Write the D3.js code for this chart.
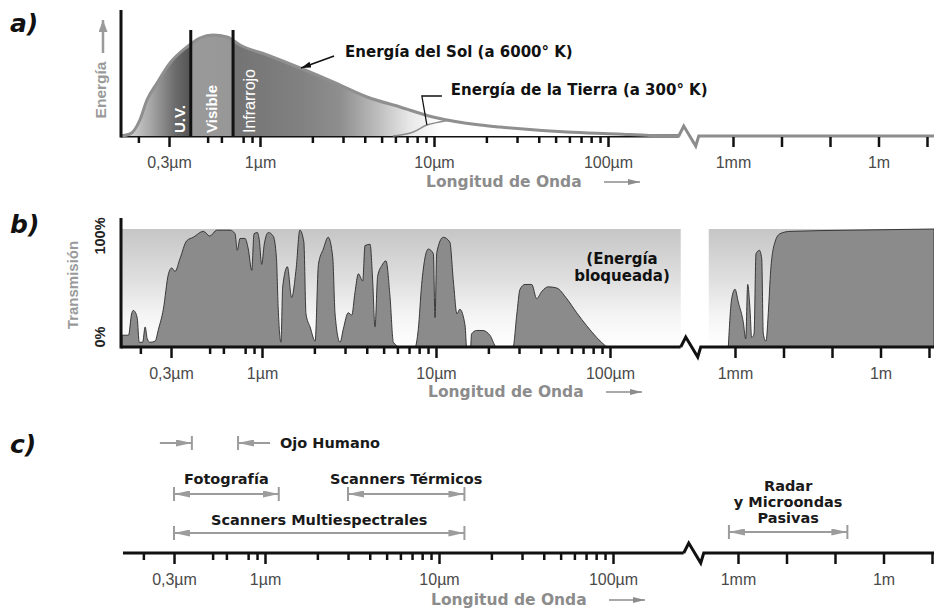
<!DOCTYPE html>
<html>
<head>
<meta charset="utf-8">
<script src="https://cdnjs.cloudflare.com/ajax/libs/d3/7.8.5/d3.min.js"></script>
<style>
  body { margin: 0; background: #fff; }
  svg { display: block; }
</style>
</head>
<body>
<svg id="chart" width="934" height="609"></svg>
<script>
/*******************************************************
 *                      DATA                           *
 ******************************************************/
// wavelengths in micrometres
var majorTicks  = [0.3, 1, 10, 100];
var majorLabels = ["0,3µm", "1µm", "10µm", "100µm"];
var minorTicks  = [0.2, 0.5, 0.6, 0.8, 0.9, 2, 3, 4, 5, 6, 7, 8, 9, 20, 30, 40, 50, 60, 70, 80, 90];
var farTicks    = [1000, 1e4, 1e5, 1e6, 1e7];
var farLabels   = ["1mm", "", "", "1m", ""];

// a) emitted energy (relative), [wavelength, energy]
var sunCurve = [[0.158,0],[0.179,2],[0.204,16],[0.224,36],[0.256,53],[0.304,73],[0.380,89],
  [0.452,98],[0.537,101],[0.646,99],[0.768,91],[1.10,81],[1.70,68],[2.63,54],[4.12,39],
  [6.38,29],[9.87,19],[18.4,11],[23.9,9],[58.1,4],[113,2],[174,0.5],[259,0]];
var earthCurve = [[5.8,0],[7.6,4],[9.1,11],[10.8,14],[12.5,16]];
var bandEdges  = [0.4, 0.7];
var bandNames  = ["U.V.", "Visible", "Infrarrojo"];

// b) atmospheric transmission (%), [wavelength, percent]
var transNear = [[0.157,10],[0.171,10],[0.178,28],[0.182,31],[0.186,30],[0.192,24],[0.197,4],
  [0.206,4],[0.213,17],[0.219,7],[0.227,4],[0.243,5],[0.254,15],[0.271,32],[0.290,62],
  [0.303,67],[0.316,64],[0.338,75],[0.369,90],[0.403,93],[0.460,98],[0.502,94],[0.549,99],
  [0.655,99],[0.700,96],[0.721,82],[0.748,92],[0.799,92],[0.834,83],[0.873,65],[0.900,96],
  [0.940,97],[0.964,91],[0.996,70],[1.03,87],[1.087,97],[1.16,94],[1.21,76],[1.24,32],
  [1.285,4],[1.315,51],[1.40,68],[1.48,42],[1.57,66],[1.65,99],[1.74,89],[1.79,28],
  [1.89,17],[2.02,5],[2.11,70],[2.25,83],[2.40,93],[2.55,76],[2.63,28],[2.81,4],[2.93,15],
  [3.13,29],[3.28,27],[3.42,46],[3.58,62],[3.79,56],[3.91,86],[4.18,87],[4.33,55],[4.46,17],
  [4.62,60],[4.88,69],[5.16,73],[5.44,43],[5.69,4],[6.21,0],[7.57,0],[7.91,15],[8.27,53],
  [9.03,83],[9.66,79],[9.87,25],[10.1,80],[11.0,93],[12.0,89],[12.6,55],[13.2,28],[13.7,32],
  [14.7,18],[15.0,0],[15.8,0],[16.0,11],[17.1,14],[18.6,14],[20.4,10],[22.3,0],[27.7,0],
  [29.1,27],[30.4,49],[32.5,53],[35.5,53],[37.9,41],[40.5,47],[44.2,51],[49.4,50],[56.4,41],
  [64.4,29],[73.5,18],[83.9,8],[95.7,0]];
var transFar = [[728,0],[855,41],[1000,49],[1170,38],[1483,21],[1662,7],[1828,53],[2038,32],
  [2210,8],[2465,11],[2710,79],[3170,82],[3554,75],[3834,11],[4355,5],[4860,29],[5445,65],
  [6680,89],[8470,96],[13600,98],[235000,99],[1.27e7,100]];

// c) sensors and their ranges
var eyeRange    = [0.38, 0.7];
var sensorNames = ["Fotografía", "Scanners Térmicos", "Scanners Multiespectrales", "Radar|y Microondas|Pasivas"];
var sensorFrom  = [0.3, 3, 0.3, 650];
var sensorTo    = [1.2, 14, 14, 180000];


/*******************************************************
 *                     SETUP                           *
 ******************************************************/
var SANS = "'Liberation Sans', Arial, Helvetica, sans-serif";
var BOLD = "'DejaVu Sans', 'Liberation Sans', sans-serif";
var W = 934;

var svg = d3.select("#chart");
var defs = svg.append("defs");

function marker(id, len, half, color) {
  defs.append("marker")
      .attr("id", id)
      .attr("markerUnits", "userSpaceOnUse")
      .attr("markerWidth", len).attr("markerHeight", half * 2)
      .attr("refX", len).attr("refY", half)
      .attr("orient", "auto-start-reverse")
      .append("path")
      .attr("d", "M0,0L" + len + "," + half + "L0," + (half * 2) + "Z")
      .attr("fill", color);
}
marker("headGray", 16, 3.5, "#9c9c9c");
marker("headAxis", 12, 3, "#8c8c8c");
marker("headBig", 12, 4.5, "#9a9a9a");
marker("headBlack", 10, 3, "#111");

// sun fill: dark UV, lighter visible band, IR fading out towards 10µm
var sunGrad = defs.append("linearGradient").attr("id", "sunFill")
    .attr("gradientUnits", "userSpaceOnUse")
    .attr("x1", 121).attr("x2", 441).attr("y1", 0).attr("y2", 0);
[[121, "#e2e2e2"], [150, "#a8a8a8"], [175, "#6c6c6c"], [189, "#565656"], [191, "#9a9a9a"],
 [232, "#979797"], [234, "#737373"], [300, "#818181"], [340, "#8e8e8e"], [380, "#c0c0c0"],
 [410, "#e8e8e8"], [441, "#ffffff"]].forEach(function(s) {
  sunGrad.append("stop").attr("offset", (s[0] - 121) / 320).attr("stop-color", s[1]);
});

// blocked-energy background of panel b
var skyGrad = defs.append("linearGradient").attr("id", "skyFill")
    .attr("x1", 0).attr("x2", 0).attr("y1", 0).attr("y2", 1);
[[0, "#c6c6c6"], [0.4, "#dddddd"], [0.75, "#f5f5f5"], [1, "#ffffff"]].forEach(function(s) {
  skyGrad.append("stop").attr("offset", s[0]).attr("stop-color", s[1]);
});

// log scales for both sides of the axis break
function nearX(shift) {
  return d3.scaleLog().domain([0.1, 1000]).range([87 + shift, 783 + shift]);
}
function farX(shift) {
  return d3.scaleLog().domain([1000, 1e7]).range([734 + shift, 928 + shift]);
}

function drawAxis(g, base, xn, xf, startX, rightColor) {
  var bx = xn(255);
  g.append("line")
   .attr("x1", startX).attr("x2", bx).attr("y1", base).attr("y2", base)
   .attr("stroke", "#111").attr("stroke-width", 3);
  g.append("path")
   .attr("d", d3.line()([[bx, base], [bx + 5, base - 10], [bx + 17, base + 10], [bx + 20, base], [W, base]]))
   .attr("fill", "none").attr("stroke", rightColor).attr("stroke-width", 3);

  var axes = [
    d3.axisBottom(xn).tickValues(minorTicks).tickSize(6).tickFormat(""),
    d3.axisBottom(xn).tickValues(majorTicks).tickSize(10).tickPadding(10)
      .tickFormat(function(d, i) { return majorLabels[i]; }),
    d3.axisBottom(xf).tickValues(farTicks).tickSize(10).tickPadding(10)
      .tickFormat(function(d, i) { return farLabels[i]; })
  ];
  axes.forEach(function(ax) {
    var a = g.append("g").attr("transform", "translate(0," + (base + 1) + ")").call(ax);
    a.select(".domain").remove();
    a.selectAll("line").attr("stroke", "#111").attr("stroke-width", 2.5);
    a.selectAll("text").attr("font-family", SANS).attr("font-size", 16).attr("fill", "#4a4a4a");
  });
  return bx;
}

function waveLabel(g, x, y) {
  g.append("text").attr("x", x).attr("y", y)
   .attr("font-family", BOLD).attr("font-weight", "bold").attr("font-size", 15.5)
   .attr("fill", "#8c8c8c").text("Longitud de Onda");
  g.append("line").attr("x1", x + 178).attr("x2", x + 214).attr("y1", y - 5).attr("y2", y - 5)
   .attr("stroke", "#8c8c8c").attr("stroke-width", 1.5).attr("marker-end", "url(#headAxis)");
}

function panelTag(txt, y) {
  svg.append("text").attr("x", 10).attr("y", y)
     .attr("font-family", BOLD).attr("font-weight", "bold").attr("font-style", "italic")
     .attr("font-size", 25).attr("fill", "#111").text(txt);
}

function vText(g, x, y, txt, size, color, weight, family) {
  return g.append("text")
    .attr("transform", "translate(" + x + "," + y + ") rotate(-90)")
    .attr("text-anchor", "middle").attr("dy", "0.35em")
    .attr("font-family", family || SANS).attr("font-weight", weight || "bold")
    .attr("font-size", size).attr("fill", color).text(txt);
}


/*******************************************************
 *              a) ENERGY SPECTRUM                     *
 ******************************************************/
var ga = svg.append("g");
var xaN = nearX(-1), xaF = farX(-1);
var ya = d3.scaleLinear().domain([0, 100]).range([136, 36]);

panelTag("a)", 32);

var bxa = drawAxis(ga, 136, xaN, xaF, 121, "#8c8c8c");

ga.append("path").datum(sunCurve)
  .attr("d", d3.area().curve(d3.curveMonotoneX)
    .x(function(d) { return xaN(d[0]); }).y0(ya(0)).y1(function(d) { return ya(d[1]); }))
  .attr("fill", "url(#sunFill)");

var lineA = d3.line().curve(d3.curveMonotoneX)
  .x(function(d) { return xaN(d[0]); }).y(function(d) { return ya(d[1]); });

ga.append("path").datum(earthCurve).attr("d", lineA)
  .attr("fill", "none").attr("stroke", "#8c8c8c").attr("stroke-width", 1.5);
ga.append("path").datum(sunCurve).attr("d", lineA)
  .attr("fill", "none").attr("stroke", "#8f8f8f").attr("stroke-width", 3);

ga.selectAll(".band").data(bandEdges).enter().append("line")
  .attr("x1", function(d) { return xaN(d); }).attr("x2", function(d) { return xaN(d); })
  .attr("y1", 30).attr("y2", 137)
  .attr("stroke", "#111").attr("stroke-width", 3);

var bandX = [xaN(bandEdges[0]) - 11, (xaN(bandEdges[0]) + xaN(bandEdges[1])) / 2, xaN(bandEdges[1]) + 16];
bandNames.forEach(function(name, i) {
  ga.append("text")
    .attr("transform", "translate(" + bandX[i] + ",133) rotate(-90)")
    .attr("dy", "0.35em")
    .attr("font-family", SANS).attr("font-size", i == 2 ? 16 : 15)
    .attr("font-weight", i == 2 ? "normal" : "bold")
    .attr("fill", "#fff").text(name);
});

// vertical axis
ga.append("line").attr("x1", 121).attr("x2", 121).attr("y1", 10).attr("y2", 137.5)
  .attr("stroke", "#111").attr("stroke-width", 3);
vText(ga, 101, 90, "Energía", 15.5, "#9a9a9a");
ga.append("line").attr("x1", 103).attr("x2", 103).attr("y1", 53).attr("y2", 20)
  .attr("stroke", "#9a9a9a").attr("stroke-width", 2.5).attr("marker-end", "url(#headBig)");

// annotations
var sunTip = [xaN(sunCurve[12][0]), ya(sunCurve[12][1])];
ga.append("line").attr("x1", sunTip[0] + 34).attr("y1", sunTip[1] - 12)
  .attr("x2", sunTip[0] + 1).attr("y2", sunTip[1])
  .attr("stroke", "#111").attr("stroke-width", 1.5).attr("marker-end", "url(#headBlack)");
ga.append("text").attr("x", sunTip[0] + 45).attr("y", 57)
  .attr("font-family", BOLD).attr("font-weight", "bold").attr("font-size", 15)
  .attr("fill", "#111").text("Energía del Sol (a 6000° K)");

var earthFoot = [xaN(earthCurve[2][0]), ya(earthCurve[2][1])];
ga.append("path")
  .attr("d", d3.line()([[earthFoot[0] + 15, 96], [earthFoot[0] - 5, 96], earthFoot]))
  .attr("fill", "none").attr("stroke", "#111").attr("stroke-width", 1.3);
ga.append("text").attr("x", earthFoot[0] + 24).attr("y", 95)
  .attr("font-family", BOLD).attr("font-weight", "bold").attr("font-size", 15)
  .attr("fill", "#111").text("Energía de la Tierra (a 300° K)");

waveLabel(ga, 426, 187);


/*******************************************************
 *              b) TRANSMISSION                        *
 ******************************************************/
var gb = svg.append("g");
var xbN = nearX(1), xbF = farX(1);
var yb = d3.scaleLinear().domain([0, 100]).range([347, 229]);

panelTag("b)", 233);

var bxb = xbN(255);
gb.append("rect").attr("x", 121).attr("y", yb(100)).attr("width", bxb - 121).attr("height", yb(0) - yb(100))
  .attr("fill", "url(#skyFill)");
gb.append("rect").attr("x", bxb + 28).attr("y", yb(100)).attr("width", W - bxb - 28).attr("height", yb(0) - yb(100))
  .attr("fill", "url(#skyFill)");

var areaNear = d3.area().curve(d3.curveMonotoneX)
  .x(function(d) { return xbN(d[0]); }).y0(yb(0)).y1(function(d) { return yb(d[1]); });
var areaFar = d3.area().curve(d3.curveMonotoneX)
  .x(function(d) { return xbF(d[0]); }).y0(yb(0)).y1(function(d) { return yb(d[1]); });

gb.append("path").datum(transNear).attr("d", areaNear)
  .attr("fill", "#8b8b8b").attr("stroke", "#2a2a2a").attr("stroke-width", 0.9);
gb.append("path").datum(transFar).attr("d", areaFar)
  .attr("fill", "#8b8b8b").attr("stroke", "#2a2a2a").attr("stroke-width", 0.9);

drawAxis(gb, 347, xbN, xbF, 121, "#111");
gb.append("line").attr("x1", 121).attr("x2", 121).attr("y1", 218).attr("y2", 348.5)
  .attr("stroke", "#111").attr("stroke-width", 3);

vText(gb, 73, 285, "Transmisión", 15, "#9a9a9a");
vText(gb, 100, 236, "100%", 14.5, "#222");
vText(gb, 100, 337, "0%", 14.5, "#222");

["(Energía", "bloqueada)"].forEach(function(t, i) {
  gb.append("text").attr("x", 622).attr("y", 264 + i * 17).attr("text-anchor", "middle")
    .attr("font-family", BOLD).attr("font-weight", "bold").attr("font-size", 15)
    .attr("fill", "#111").text(t);
});

waveLabel(gb, 428, 397);


/*******************************************************
 *              c) SENSORS                             *
 ******************************************************/
var gc = svg.append("g");
var xcN = nearX(4), xcF = farX(4);
function xc(v) { return v > 500 ? xcF(v) : xcN(v); }

panelTag("c)", 453);

drawAxis(gc, 553, xcN, xcF, 123, "#111");

function endBar(x, y) {
  gc.append("line").attr("x1", x).attr("x2", x).attr("y1", y - 7).attr("y2", y + 7)
    .attr("stroke", "#9c9c9c").attr("stroke-width", 2);
}
function sensorText(x, y, t, anchor) {
  gc.append("text").attr("x", x).attr("y", y).attr("text-anchor", anchor || "middle")
    .attr("font-family", BOLD).attr("font-weight", "bold").attr("font-size", 14.5)
    .attr("fill", "#1a1a1a").text(t);
}

// eye: two arrows pointing at the visible window
var eyeY = 443;
[[xc(eyeRange[0]) - 32, xc(eyeRange[0])], [xc(eyeRange[1]) + 32, xc(eyeRange[1])]].forEach(function(p) {
  gc.append("line").attr("x1", p[0]).attr("x2", p[1]).attr("y1", eyeY).attr("y2", eyeY)
    .attr("stroke", "#9c9c9c").attr("stroke-width", 2).attr("marker-end", "url(#headGray)");
  endBar(p[1], eyeY);
});
sensorText(xc(eyeRange[1]) + 42, eyeY + 5, "Ojo Humano", "start");

var barY  = [494, 494, 533, 532];
var textY = [484, 484, 525, 491];
sensorNames.forEach(function(name, i) {
  var x1 = xc(sensorFrom[i]), x2 = xc(sensorTo[i]);
  gc.append("line").attr("x1", x1).attr("x2", x2).attr("y1", barY[i]).attr("y2", barY[i])
    .attr("stroke", "#9c9c9c").attr("stroke-width", 2)
    .attr("marker-start", "url(#headGray)").attr("marker-end", "url(#headGray)");
  endBar(x1, barY[i]);
  endBar(x2, barY[i]);
  name.split("|").forEach(function(t, j) {
    sensorText((x1 + x2) / 2, textY[i] + j * 16, t);
  });
});

waveLabel(gc, 431, 605);
</script>
</body>
</html>
